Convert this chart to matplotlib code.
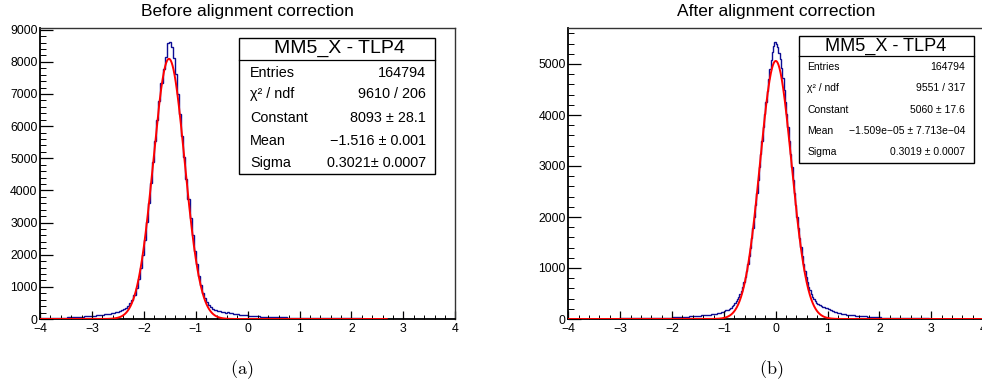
import numpy as np
import matplotlib
matplotlib.use("Agg")
import matplotlib.pyplot as plt
from matplotlib.patches import Rectangle
from matplotlib.lines import Line2D
from matplotlib.ticker import MultipleLocator

plt.rcParams['font.family'] = ['Liberation Sans', 'DejaVu Sans']
plt.rcParams['mathtext.fontset'] = 'cm'

W, H = 982, 389

titles = ["Before alignment correction", "After alignment correction"]
panel_tags = ["(a)", "(b)"]
stats_title = "MM5_X - TLP4"
stats_labels = ["Entries", "\u03c7\u00b2 / ndf", "Constant", "Mean", "Sigma"]
stats_before = ["164794", "9610 / 206", "8093 \u00b1 28.1",
                "\u22121.516 \u00b1 0.001", "0.3021\u00b1 0.0007"]
stats_after = ["164794", "9551 / 317", "5060 \u00b1 17.6",
               "\u22121.509e\u221205 \u00b1 7.713e\u221204", "0.3019 \u00b1 0.0007"]

# Gaussian fit results (constant, mean, sigma) and the range they were drawn on
fit_before = (8093.0, -1.516, 0.3021)
fit_range_before = (-4.0, 2.68)
fit_after = (5060.0, -1.509e-05, 0.3019)
fit_range_after = (-4.0, 4.0)

# residual histogram before correction: 200 bins of 0.04 over [-4, 4]
nbins_before = 200
counts_before = [
    22, 25, 24, 28, 30, 29, 33, 35, 38, 37,
    41, 44, 46, 50, 52, 55, 58, 61, 66, 70,
    74, 79, 84, 88, 95, 101, 107, 112, 120, 128,
    137, 146, 156, 167, 178, 190, 205, 222, 245, 268,
    300, 345, 410, 490, 600, 755, 965, 1240, 1585, 1995,
    2470, 3005, 3600, 4230, 4880, 5540, 6180, 6790, 7330, 7790,
    8150, 8600, 8610, 8450, 8120, 7620, 7010, 6370, 5700, 5030,
    4370, 3740, 3150, 2610, 2130, 1710, 1350, 1050, 810, 640,
    520, 430, 370, 320, 290, 262, 243, 226, 212, 201,
    208, 190, 178, 166, 156, 146, 137, 128, 120, 112,
    104, 97, 93, 88, 85, 80, 77, 74, 70, 68,
    65, 62, 60, 57, 56, 53, 51, 50, 48, 46,
    45, 43, 42, 40, 39, 37, 36, 35, 34, 33,
    32, 31, 30, 29, 28, 27, 27, 26, 25, 24,
    24, 23, 22, 22, 21, 20, 20, 19, 19, 18,
    18, 17, 17, 16, 16, 15, 15, 15, 14, 14,
    14, 13, 13, 13, 12, 12, 12, 11, 11, 11,
    11, 10, 10, 10, 10, 9, 9, 9, 9, 9,
    8, 8, 8, 8, 8, 8, 7, 7, 7, 7,
    7, 7, 7, 6, 6, 6, 6, 6, 6, 6,
]

# residual histogram after correction: 320 bins of 0.025 over [-4, 4]
nbins_after = 320
counts_after = [
    4, 4, 4, 4, 5, 5, 5, 5, 5, 5, 5, 5, 5, 6, 6, 6, 6, 6, 6, 6,
    6, 7, 7, 7, 7, 7, 7, 7, 8, 8, 8, 8, 8, 8, 9, 9, 9, 9, 9, 10,
    10, 10, 10, 10, 11, 11, 11, 11, 12, 12, 12, 12, 13, 13, 13, 14, 14, 14, 15, 15,
    15, 16, 16, 17, 17, 18, 18, 19, 19, 20, 21, 21, 22, 23, 24, 25, 26, 27, 28, 29,
    30, 31, 32, 34, 35, 37, 38, 40, 41, 43, 45, 47, 49, 51, 53, 55, 57, 59, 61, 63,
    65, 67, 69, 71, 73, 76, 78, 81, 84, 87, 90, 94, 98, 102, 107, 112, 118, 125, 132, 140,
    150, 170, 178, 185, 200, 225, 250, 280, 310, 345, 385, 430, 485, 550, 630, 720, 825, 945, 1080, 1230,
    1400, 1585, 1785, 2000, 2230, 2470, 2720, 2980, 3240, 3500, 3760, 4010, 4250, 4480, 4700, 4900, 5080, 5230, 5350, 5430,
    5400, 5330, 5220, 5090, 4920, 4720, 4500, 4260, 4010, 3760, 3500, 3240, 2980, 2720, 2470, 2230, 2000, 1790, 1590, 1405,
    1235, 1085, 950, 830, 725, 635, 560, 495, 440, 395, 355, 320, 300, 280, 265, 250, 240, 230, 222, 215,
    205, 192, 178, 165, 150, 138, 128, 120, 114, 108, 103, 98, 94, 90, 86, 83, 80, 77, 74, 72,
    70, 67, 65, 63, 61, 59, 57, 55, 53, 51, 49, 47, 45, 43, 41, 39, 37, 35, 33, 31,
    30, 29, 28, 27, 26, 25, 24, 23, 22, 21, 20, 20, 19, 18, 18, 17, 17, 16, 16, 15,
    15, 14, 14, 14, 13, 13, 13, 12, 12, 12, 11, 11, 11, 11, 10, 10, 10, 10, 9, 9,
    9, 9, 9, 8, 8, 8, 8, 8, 8, 7, 7, 7, 7, 7, 7, 7, 6, 6, 6, 6,
    6, 6, 6, 6, 5, 5, 5, 5, 5, 5, 5, 5, 5, 4, 4, 4, 4, 4, 4, 4,
]

HIST_COLOR = "#0c0c94"
FIT_COLOR = "#ff0000"


def fx(x):
    return x / W


def fy(y):
    return 1.0 - y / H


def gauss(x, c, m, s):
    return c * np.exp(-0.5 * ((x - m) / s) ** 2)


fig = plt.figure(figsize=(W / 100, H / 100), dpi=100)
fig.patch.set_facecolor("white")


def make_panel(box_px, counts, nbins, fit, fit_range, ymax, title):
    x0, x1, ytop, ybot = box_px
    ax = fig.add_axes([fx(x0), fy(ybot), (x1 - x0) / W, (ybot - ytop) / H])
    edges = np.linspace(-4.0, 4.0, nbins + 1)
    ax.stairs(counts, edges, color=HIST_COLOR, lw=1.0, baseline=0)
    xs = np.linspace(fit_range[0], fit_range[1], 1500)
    ax.plot(xs, gauss(xs, *fit), color=FIT_COLOR, lw=1.4, zorder=3)
    ax.set_xlim(-4, 4)
    ax.set_ylim(0, ymax)
    ax.xaxis.set_major_locator(MultipleLocator(1))
    ax.xaxis.set_minor_locator(MultipleLocator(0.2))
    ax.yaxis.set_major_locator(MultipleLocator(1000))
    ax.yaxis.set_minor_locator(MultipleLocator(200))
    ax.tick_params(which="both", direction="in", top=False, right=False,
                   labelsize=8.8, color="black")
    ax.tick_params(axis="x", which="major", length=6, width=0.9, pad=3.0)
    ax.tick_params(axis="x", which="minor", length=3, width=0.7)
    ax.tick_params(axis="y", which="major", length=9, width=0.9, pad=1.8)
    ax.tick_params(axis="y", which="minor", length=4.5, width=0.7)
    for side in ("left", "bottom"):
        ax.spines[side].set_linewidth(1.3)
        ax.spines[side].set_color("black")
    for side in ("top", "right"):
        ax.spines[side].set_linewidth(1.0)
        ax.spines[side].set_color("#333333")
    fig.text(fx((x0 + x1) / 2), fy(11.5), title, ha="center", va="center",
             fontsize=12.5)
    return ax


def stats_box(rect, sep_y, title_xy, title_size, label_x, value_x, rows_y,
              values, size):
    bx0, bx1, by0, by1 = rect
    fig.add_artist(Rectangle((fx(bx0), fy(by1)), (bx1 - bx0) / W, (by1 - by0) / H,
                             transform=fig.transFigure, facecolor="white",
                             edgecolor="black", lw=1.0, zorder=5))
    fig.add_artist(Line2D([fx(bx0), fx(bx1)], [fy(sep_y), fy(sep_y)],
                          transform=fig.transFigure, color="black", lw=0.9,
                          zorder=6))
    fig.text(fx(title_xy[0]), fy(title_xy[1]), stats_title, ha="center",
             va="center", fontsize=title_size, zorder=7)
    for lab, val, ry in zip(stats_labels, values, rows_y):
        fig.text(fx(label_x), fy(ry), lab, ha="left", va="center",
                 fontsize=size, zorder=7)
        fig.text(fx(value_x), fy(ry), val, ha="right", va="center",
                 fontsize=size, zorder=7)


make_panel((40.0, 455.3, 28.3, 319.0), counts_before, nbins_before,
           fit_before, fit_range_before, 9042, titles[0])
make_panel((568.3, 983.2, 28.3, 319.0), counts_after, nbins_after,
           fit_after, fit_range_after, 5700, titles[1])

stats_box((239.0, 435.0, 37.7, 174.0), 60.2, (339.0, 48.6), 14.0,
          250.0, 426.0, [72.7, 94.3, 118.0, 141.0, 162.7], stats_before, 10.4)
stats_box((799.0, 974.3, 35.7, 162.7), 56.3, (886.0, 46.0), 13.1,
          807.3, 965.0, [67.3, 88.3, 110.0, 131.3, 151.7], stats_after, 7.5)

for tag, cx in zip(panel_tags, (242.0, 770.7)):
    fig.text(fx(cx), fy(370.0), r"$\mathrm{" + tag + "}$", ha="center",
             va="center", fontsize=13)

fig.savefig("out.png", dpi=100, facecolor="white")
